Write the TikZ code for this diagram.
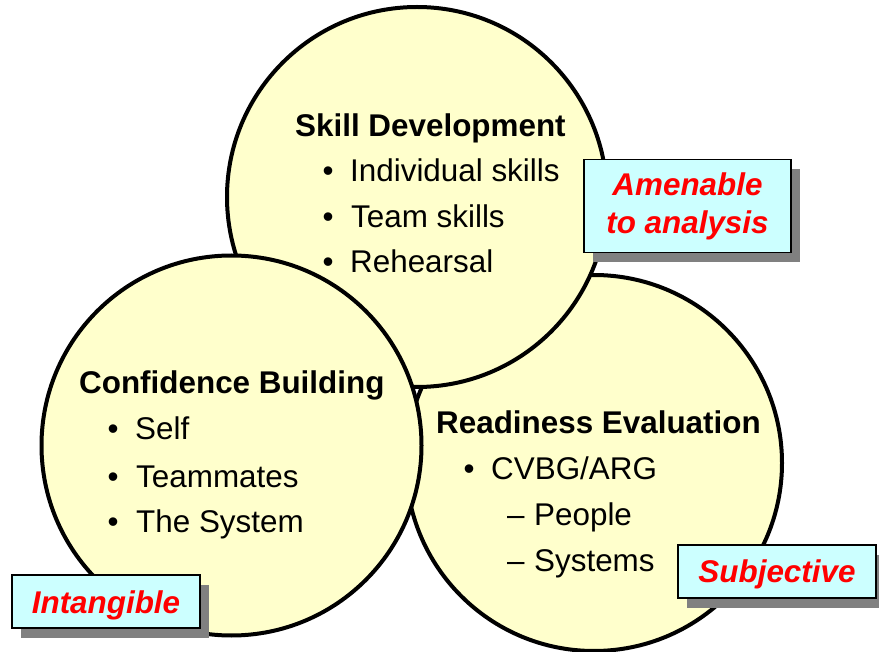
\documentclass[tikz,border=0pt]{standalone}
\usepackage{fontspec}
\setmainfont{Liberation Sans}
\usetikzlibrary{shadows}
\definecolor{circfill}{HTML}{FFFFCC}
\definecolor{boxfill}{HTML}{CCFFFF}
\definecolor{shadowgray}{HTML}{808080}
\definecolor{labelred}{HTML}{FF0000}
\begin{document}
\begin{tikzpicture}[x=1pt,y=-1pt,
  bigcircle/.style={circle, draw=black, line width=4pt, fill=circfill, inner sep=0pt},
  heading/.style={anchor=base west, inner sep=0pt, font=\fontsize{31.4}{37}\selectfont\bfseries},
  item/.style={anchor=base west, inner sep=0pt, font=\fontsize{31.4}{37}\selectfont},
  tag/.style={draw=black, line width=1.2pt, fill=boxfill, text=labelred,
    font=\fontsize{31.4}{38}\selectfont\bfseries\itshape, align=center, inner sep=0pt,
    drop shadow={shadow xshift=9pt, shadow yshift=-10pt, fill=shadowgray, opacity=1}}
]
\useasboundingbox (0,0) rectangle (879,652);
% circles (back to front)
\node[bigcircle, minimum size=376pt] (readiness) at (594,463) {};
\node[bigcircle, minimum size=380pt] (skill) at (417,197) {};
\node[bigcircle, minimum size=380pt] (confidence) at (231.5,445.5) {};
% Skill Development
\node[heading] (sdh) at (295,137) {Skill Development};
\node[item] (sdb1) at (322.5,182) {\textbullet};
\node[item] (sd1) at (350,182) {Individual skills};
\node[item] (sdb2) at (322.5,228) {\textbullet};
\node[item] (sd2) at (351,228) {Team skills};
\node[item] (sdb3) at (322.5,273) {\textbullet};
\node[item] (sd3) at (350,273) {Rehearsal};
% Confidence Building
\node[heading] (cbh) at (79,394) {Confidence Building};
\node[item] (cbb1) at (107.5,439) {\textbullet};
\node[item] (cb1) at (135,439) {Self};
\node[item] (cbb2) at (107.5,487) {\textbullet};
\node[item] (cb2) at (136,487) {Teammates};
\node[item] (cbb3) at (107.5,532) {\textbullet};
\node[item] (cb3) at (136,532) {The System};
% Readiness Evaluation
\node[heading] (reh) at (436,434) {Readiness Evaluation};
\node[item] (reb1) at (463.5,479) {\textbullet};
\node[item] (re1) at (491,479) {CVBG/ARG};
\node[item] (red2) at (507,525) {–};
\node[item] (re2) at (534,525) {People};
\node[item] (red3) at (507,571) {–};
\node[item] (re3) at (534,571) {Systems};
% tags
\node[tag, minimum width=207pt, minimum height=93pt] (amen) at (687.5,206) {Amenable\\to analysis};
\node[tag, minimum width=188pt, minimum height=53pt, text height=23pt, text depth=0pt] (intang) at (106,601.5) {Intangible};
\node[tag, minimum width=198pt, minimum height=53pt, text height=21pt, text depth=0pt] (subj) at (777,571.5) {Subjective};
\end{tikzpicture}
\end{document}
